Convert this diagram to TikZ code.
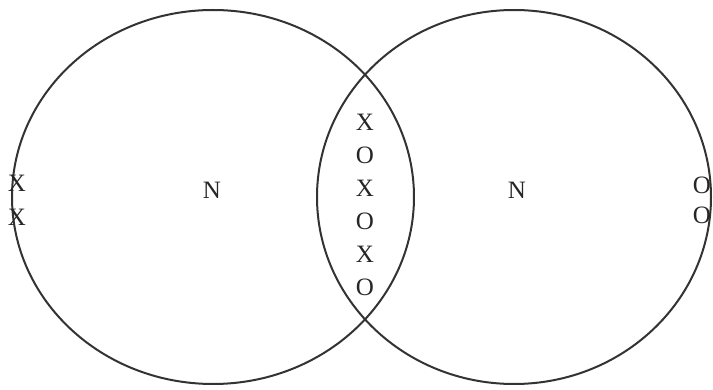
\documentclass[tikz,border=0pt]{standalone}
\usepackage{fontspec}
\setmainfont{Liberation Serif}
\definecolor{lineColor}{HTML}{333333}

\begin{document}
\begin{tikzpicture}[x=1pt, y=-1pt,
    ring/.style={draw=lineColor, line width=2pt},
    symbol/.style={text=black!85, inner sep=0pt, font=\fontsize{25}{27}\selectfont}]
    \useasboundingbox (0,0) rectangle (713,390);
    \draw[ring] (213,197) ellipse [x radius=201pt, y radius=187pt];
    \draw[ring] (514,197) ellipse [x radius=197pt, y radius=187pt];
    \node[symbol] (nLeft) at (212,190) {N};
    \node[symbol] (nRight) at (517,190) {N};
    \foreach \s [count=\i] in {X,O,X,O,X,O}
        \node[symbol] (lens\i) at (365,{89+33*\i}) {\s};
    \node[symbol] (edgeX1) at (17,183) {X};
    \node[symbol] (edgeX2) at (17,217) {X};
    \node[symbol] (edgeO1) at (702,185) {O};
    \node[symbol] (edgeO2) at (702,215) {O};
\end{tikzpicture}
\end{document}
